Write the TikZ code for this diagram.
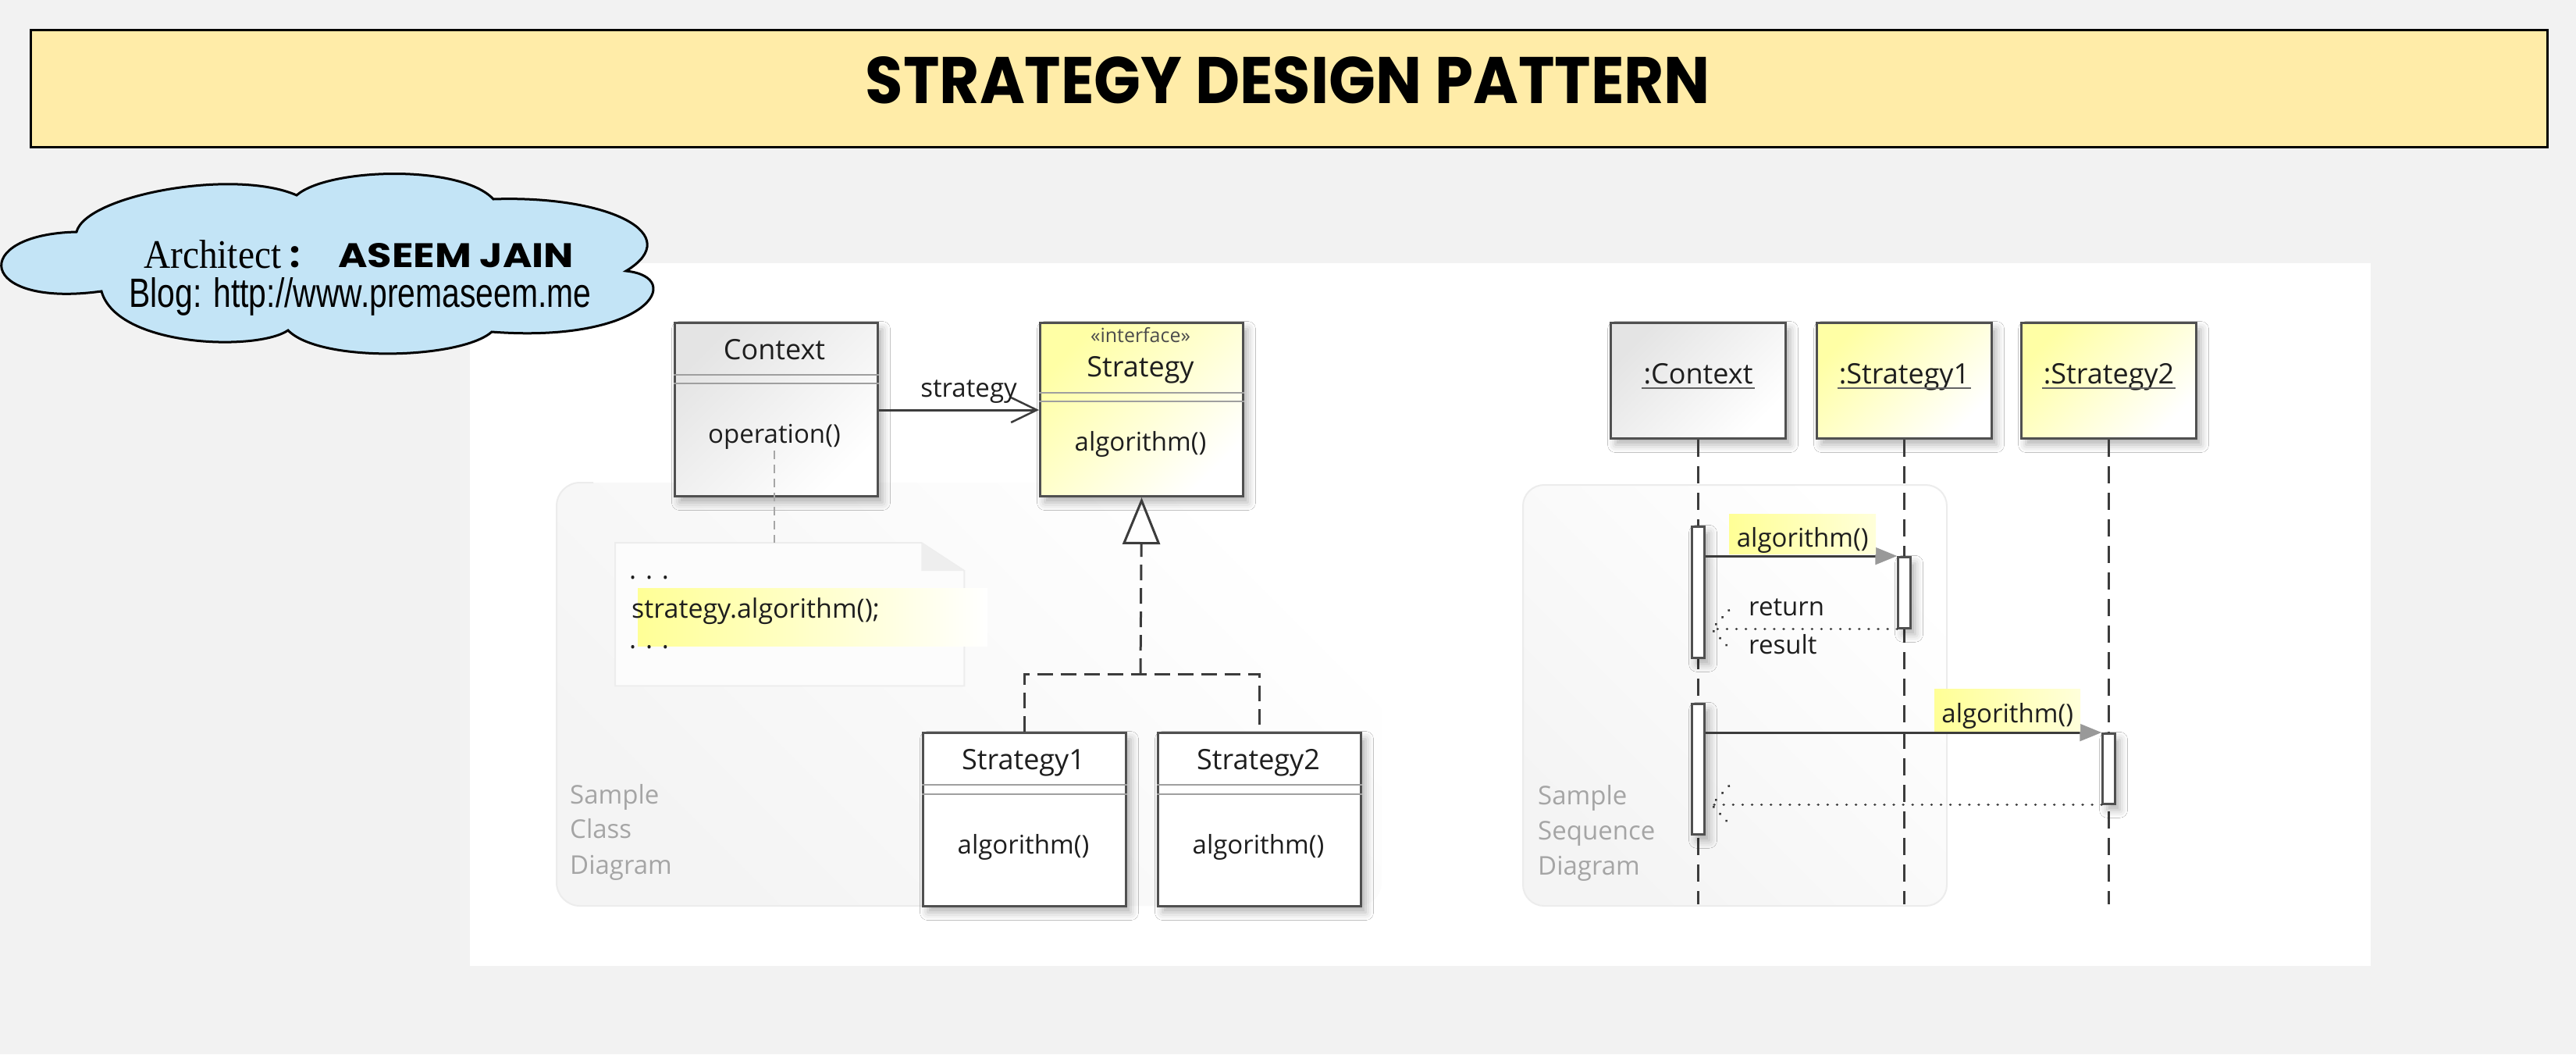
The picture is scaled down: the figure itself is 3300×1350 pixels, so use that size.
\documentclass[tikz,border=0pt]{standalone}
\usepackage{graphicx}
\usepackage{fontspec}
\setmainfont{Open Sans}
\newfontfamily\comicfont{Poppins}
\newfontfamily\serifA{Liberation Serif}
\newfontfamily\sansA{Liberation Sans}
\usetikzlibrary{arrows.meta,shadows.blur,calc}

\definecolor{bgcol}{RGB}{242,242,242}
\definecolor{titlefill}{RGB}{255,236,168}
\definecolor{cloudfill}{RGB}{195,228,246}
\definecolor{umlline}{RGB}{80,80,80}
\definecolor{umldark}{RGB}{60,60,60}
\definecolor{umltext}{RGB}{30,30,30}
\definecolor{hlyellow}{RGB}{255,255,150}
\definecolor{boxyellow}{RGB}{255,255,165}
\definecolor{boxgray}{RGB}{228,228,228}
\definecolor{captiongray}{RGB}{165,165,165}
\definecolor{panelgray}{RGB}{244,244,244}
\definecolor{panelline}{RGB}{236,236,236}

\begin{document}
\begin{tikzpicture}[x=1pt,y=-1pt,
  umlshadow/.style={blur shadow={shadow xshift=6pt,shadow yshift=-8pt,shadow blur radius=10pt,shadow opacity=30}},
  classbox/.style={draw=umlline,line width=3pt,inner sep=0pt,minimum width=260pt,minimum height=222pt,anchor=north west,umlshadow},
  seqbox/.style={draw=umlline,line width=3pt,inner sep=0pt,minimum width=224pt,minimum height=148pt,anchor=north west,umlshadow},
  grayfill/.style={top color=boxgray,bottom color=white,shading angle=45},
  yellowfill/.style={top color=boxyellow,bottom color=white,shading angle=45},
  whitefill/.style={fill=white},
  comp/.style={draw=gray!75,line width=2pt},
  namefont/.style={font=\fontsize{36}{40}\selectfont,text=umltext,inner sep=2pt},
  opfont/.style={font=\fontsize{33}{38}\selectfont,text=umltext,inner sep=2pt},
  stereo/.style={font=\fontsize{25}{28}\selectfont,text=umltext!80,inner sep=2pt},
  codefont/.style={font=\fontsize{34}{38}\selectfont,text=umltext,inner sep=0pt},
  capfont/.style={font=\fontsize{33}{38}\selectfont,text=captiongray,inner sep=0pt},
  assoc/.style={draw=umldark,line width=3pt,-{Straight Barb[length=33pt,width=32pt,line width=2.5pt]}},
  realdash/.style={draw=umldark,line width=3pt,dash pattern=on 20pt off 10pt},
  notedash/.style={draw=gray!70,line width=2.5pt,dash pattern=on 11pt off 7pt},
  lifeline/.style={draw=umldark,line width=3pt,dash pattern=on 22pt off 12pt},
  actbar/.style={draw=umlline,fill=white,line width=2.5pt,minimum width=16pt,inner sep=0pt,anchor=north,umlshadow},
  msg/.style={draw=umldark,line width=3pt,-{Triangle[length=28pt,width=22pt,color=gray!80]}},
  ret/.style={draw=umldark,line width=3.5pt,line cap=round,dash pattern=on 0.1pt off 12pt},
  msglbl/.style={left color=hlyellow,right color=hlyellow!35!white,inner sep=0pt,anchor=south west},
  ulline/.style={draw=umldark!80,line width=2.5pt}
]
\useasboundingbox (0,0) rectangle (3300,1350);
\fill[bgcol] (0,0) rectangle (3300,1350);

% title
\node[draw=black,line width=3pt,fill=titlefill,minimum width=3224pt,minimum height=150pt,anchor=north west,inner sep=0pt] (titlebox) at (38,37) {};
\node[anchor=base,inner sep=0pt] (title) at (1650,132) {\resizebox{1082pt}{60pt}{\comicfont\bfseries STRATEGY DESIGN PATTERN}};

% white panel
\fill[white] (602,337) rectangle (3037,1237);

% cloud
\draw[line width=3pt,fill=cloudfill]
  (130,373) .. controls (-30,395) and (-40,300) .. (98,297)
  .. controls (110,250) and (300,215) .. (380,250)
  .. controls (420,215) and (590,210) .. (632,255)
  .. controls (780,250) and (880,300) .. (802,347)
  .. controls (880,355) and (830,440) .. (630,425)
  .. controls (590,460) and (410,465) .. (369,423)
  .. controls (330,450) and (150,445) .. (130,373) -- cycle;
\node[anchor=base west,inner sep=0pt] (arch) at (184,343) {\resizebox{176pt}{36pt}{\serifA Architect}};
\node[anchor=base west,inner sep=0pt] (colon) at (371,342) {\comicfont\bfseries\fontsize{46}{46}\selectfont :};
\node[anchor=base west,inner sep=0pt] (name) at (433,342) {\resizebox{302pt}{31pt}{\comicfont\bfseries ASEEM JAIN}};
\node[anchor=base west,inner sep=0pt] (blog) at (165,393) {\resizebox{592pt}{38pt}{\sansA Blog: http://www.premaseem.me}};

% background panels
\shade[rounded corners=30pt,top color=white,bottom color=panelgray,shading angle=-45] (713,618) rectangle (1770,1160);
\draw[draw=panelline,line width=2pt,rounded corners=30pt] (760,618) -- (713,618) -- (713,1160) -- (1300,1160);
\shade[rounded corners=27pt,top color=white,bottom color=panelgray,shading angle=-45] (1951,621) rectangle (2494,1160);
\draw[draw=panelline,line width=2pt,rounded corners=27pt] (1951,621) rectangle (2494,1160);

% ---------- class diagram ----------
\node[classbox,grayfill] (ctx) at (863,412) {};
\draw[comp] (ctx.west |- 0,480) -- (ctx.east |- 0,480);
\draw[comp] (ctx.west |- 0,491) -- (ctx.east |- 0,491);
\node[namefont,anchor=base] (ctxname) at (992,460) {Context};
\node[opfont,anchor=base] (ctxop) at (992,567) {operation()};

\node[classbox,yellowfill] (strat) at (1331,412) {};
\draw[comp] (strat.west |- 0,503) -- (strat.east |- 0,503);
\draw[comp] (strat.west |- 0,514) -- (strat.east |- 0,514);
\node[stereo,anchor=base] (stratst) at (1461,438) {«interface»};
\node[namefont,anchor=base] (stratname) at (1461,482) {Strategy};
\node[opfont,anchor=base] (stratop) at (1461,577) {algorithm()};

\node[classbox,whitefill] (s1) at (1181,937) {};
\draw[comp] (s1.west |- 0,1005) -- (s1.east |- 0,1005);
\draw[comp] (s1.west |- 0,1017) -- (s1.east |- 0,1017);
\node[namefont,anchor=base] (s1name) at (1311,985) {Strategy1};
\node[opfont,anchor=base] (s1op) at (1311,1093) {algorithm()};

\node[classbox,whitefill] (s2) at (1482,937) {};
\draw[comp] (s2.west |- 0,1005) -- (s2.east |- 0,1005);
\draw[comp] (s2.west |- 0,1017) -- (s2.east |- 0,1017);
\node[namefont,anchor=base] (s2name) at (1612,985) {Strategy2};
\node[opfont,anchor=base] (s2op) at (1612,1093) {algorithm()};

% association
\draw[assoc] (ctx.east |- 0,525) -- (strat.west |- 0,525);
\node[opfont,anchor=base] (assoclbl) at (1241,508) {strategy};

% realization
\coordinate (rj) at (1461,863);
\draw[realdash] (s1.north) |- (rj) -| (s2.north);
\draw[realdash,-{Triangle[open,length=60pt,width=48pt,line width=3pt]}] (rj) -- (strat.south);

% note
\node[inner sep=0pt,minimum width=447pt,minimum height=183pt,anchor=north west] (note) at (788,695) {};
\draw[draw=gray!14,fill=gray!2,line width=2pt] (note.north west) -- ($(note.north east)+(-55,0)$) -- ($(note.north east)+(0,36)$) -- (note.south east) -- (note.south west) -- cycle;
\fill[gray!13] ($(note.north east)+(-55,0)$) -- ($(note.north east)+(-55,36)$) -- ($(note.north east)+(0,36)$) -- cycle;
\shade[left color=hlyellow,right color=white] (817,753) rectangle (1265,827);
\node[codefont,anchor=base west] (dots1) at (806,741) {. . .};
\node[codefont,anchor=base west] (code) at (809,791) {strategy.algorithm();};
\node[codefont,anchor=base west] (dots2) at (806,830) {. . .};
\draw[notedash] (ctxop.south) -- (ctxop.south |- note.north);

% captions
\node[capfont,anchor=base west] (cc1) at (730,1029) {Sample};
\node[capfont,anchor=base west] (cc2) at (730,1073) {Class};
\node[capfont,anchor=base west] (cc3) at (730,1119) {Diagram};

% ---------- sequence diagram ----------
\node[seqbox,grayfill] (sctx) at (2062,412) {};
\node[seqbox,yellowfill] (ss1) at (2326,412) {};
\node[seqbox,yellowfill] (ss2) at (2588,412) {};
\node[namefont,anchor=base] (sctxl) at (sctx.center |- 0,491) {:Context};
\node[namefont,anchor=base] (ss1l) at (ss1.center |- 0,491) {:Strategy1};
\node[namefont,anchor=base] (ss2l) at (ss2.center |- 0,491) {:Strategy2};
\draw[ulline] ([yshift=-6pt]sctxl.base west) -- ([yshift=-6pt]sctxl.base east);
\draw[ulline] ([yshift=-6pt]ss1l.base west) -- ([yshift=-6pt]ss1l.base east);
\draw[ulline] ([yshift=-6pt]ss2l.base west) -- ([yshift=-6pt]ss2l.base east);

\draw[lifeline] (sctx.south) -- (sctx.south |- 0,1158);
\draw[lifeline] (ss1.south) -- (ss1.south |- 0,1158);
\draw[lifeline] (ss2.south) -- (ss2.south |- 0,1158);

\node[actbar,minimum height=168pt] (ca1) at (sctx.south |- 0,673) {};
\node[actbar,minimum height=167pt] (ca2) at (sctx.south |- 0,900) {};
\node[actbar,minimum height=91pt] (sa1) at (ss1.south |- 0,712) {};
\node[actbar,minimum height=90pt] (sa2) at (ss2.south |- 0,938) {};

\draw[msg] (ca1.east |- sa1.north) -- (sa1.north west);
\draw[msg] (ca2.east |- sa2.north) -- (sa2.north west);

\coordinate (r1) at (ca1.east |- sa1.south);
\draw[ret] (sa1.south west) -- ($(r1)+(8,0)$);
\draw[ret] ($(r1)+(30,-24)$) -- ($(r1)+(8,0)$) -- ($(r1)+(30,24)$);
\coordinate (r2) at (ca2.east |- sa2.south);
\draw[ret] (sa2.south west) -- ($(r2)+(8,0)$);
\draw[ret] ($(r2)+(30,-24)$) -- ($(r2)+(8,0)$) -- ($(r2)+(30,24)$);

\node[msglbl,minimum width=188pt,minimum height=51pt] (m1bg) at (2215,710) {};
\node[opfont,anchor=base] (m1lbl) at (m1bg.center |- 0,700) {algorithm()};
\node[msglbl,minimum width=187pt,minimum height=54pt] (m2bg) at (2478,937) {};
\node[opfont,anchor=base] (m2lbl) at (m2bg.center |- 0,925) {algorithm()};
\node[opfont,anchor=base west] (retl) at (2238,788) {return};
\node[opfont,anchor=base west] (resl) at (2238,837) {result};

\node[capfont,anchor=base west] (sc1) at (1970,1030) {Sample};
\node[capfont,anchor=base west] (sc2) at (1970,1075) {Sequence};
\node[capfont,anchor=base west] (sc3) at (1970,1120) {Diagram};
\end{tikzpicture}
\end{document}
